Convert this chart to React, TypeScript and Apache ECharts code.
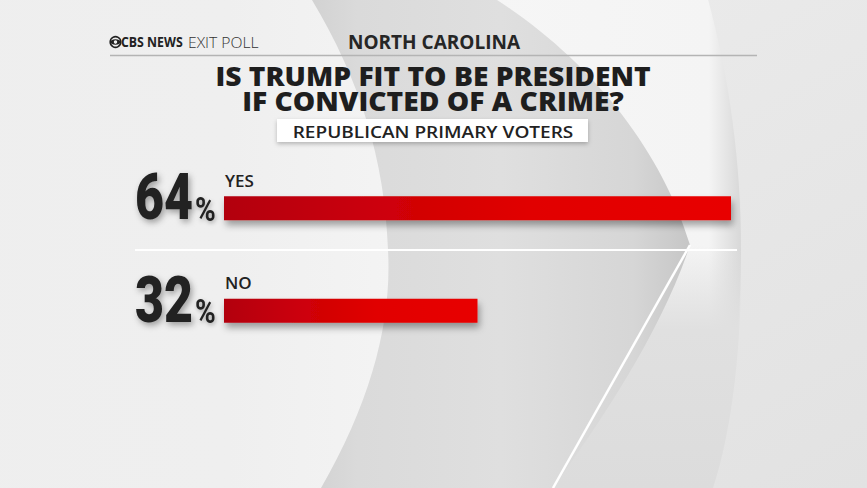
import React, { useEffect, useRef } from "react";
import * as echarts from "echarts";

const categories = ["YES", "NO"];
const values = [64, 32];
const headerLeftBold = "CBS NEWS";
const headerLeftLight = "EXIT POLL";
const stateName = "NORTH CAROLINA";
const titleLines = ["IS TRUMP FIT TO BE PRESIDENT", "IF CONVICTED OF A CRIME?"];
const subtitle = "REPUBLICAN PRIMARY VOTERS";

const W = 867;
const H = 488;

const CRESCENT_D =
  "M312,0 L497,0 C590,60 662,150 690,245 C662,330 602,420 553,488 L321,488 C372,400 392,320 388,250 C385,160 360,80 312,0 Z";
const LOWER_D = "M690,245 L553,488 L713,488 C735,420 742,330 741,250 Z";

let registered = false;
function registerShapes() {
  if (registered) return;
  echarts.graphic.registerShape("crescent", echarts.graphic.extendPath(CRESCENT_D, {}));
  echarts.graphic.registerShape("lowerPanel", echarts.graphic.extendPath(LOWER_D, {}));
  registered = true;
}

export default function App() {
  const ref = useRef<HTMLDivElement>(null);

  useEffect(() => {
    if (!ref.current) return;
    registerShapes();
    const chart = echarts.init(ref.current, null, { renderer: "svg" });
    const LG = echarts.graphic.LinearGradient;

    const background: any[] = [
      {
        type: "rect",
        id: "bg",
        z: -100,
        shape: { x: 0, y: 0, width: W, height: H },
        style: {
          fill: new LG(0, 0, 1, 1, [
            { offset: 0, color: "#efefef" },
            { offset: 1, color: "#e2e2e2" },
          ]),
        },
        silent: true,
      },
      {
        type: "ellipse",
        id: "band",
        z: -99,
        shape: { cx: 100, cy: 250, rx: 641, ry: 789 },
        style: {
          fill: new LG(0, 0, 1, 0, [
            { offset: 0, color: "#ededed" },
            { offset: 0.6, color: "#efefef" },
            { offset: 0.8, color: "#f6f6f6" },
            { offset: 0.975, color: "#f4f4f4" },
            { offset: 1, color: "#d8d8d8" },
          ]),
        },
        silent: true,
      },
      {
        type: "lowerPanel",
        id: "lower",
        z: -98,
        style: {
          fill: new LG(0, 0, 0, 1, [
            { offset: 0, color: "rgba(222,222,222,0)" },
            { offset: 0.35, color: "#e0e0e0" },
            { offset: 1, color: "#dcdcdc" },
          ]),
        },
        silent: true,
      },
      {
        type: "crescent",
        id: "crescent",
        z: -97,
        style: {
          fill: new LG(0, 0, 1, 0, [
            { offset: 0, color: "#d2d2d2" },
            { offset: 0.12, color: "#dadada" },
            { offset: 0.5, color: "#dfdfdf" },
            { offset: 0.85, color: "#d6d6d6" },
            { offset: 1, color: "#c6c6c6" },
          ]),
        },
        silent: true,
      },
      {
        type: "line",
        id: "crescentEdge",
        z: -96,
        shape: { x1: 690, y1: 245, x2: 553, y2: 488 },
        style: { stroke: "#ffffff", lineWidth: 2.5 },
        silent: true,
      },
    ];

    const statics: any[] = [
      {
        type: "circle",
        id: "eyeOuter",
        z: 10,
        shape: { cx: 115.5, cy: 42, r: 5.3 },
        style: { fill: "none", stroke: "#222", lineWidth: 1.6 },
      },
      {
        type: "ellipse",
        id: "eyeLid",
        z: 10,
        shape: { cx: 115.5, cy: 42, rx: 5, ry: 2.8 },
        style: { fill: "#222" },
      },
      {
        type: "circle",
        id: "eyePupil",
        z: 11,
        shape: { cx: 115.5, cy: 42, r: 1.7 },
        style: { fill: "#f2f2f2" },
      },
      {
        type: "text",
        id: "cbs",
        z: 10,
        x: 121,
        y: 42,
        scaleX: 0.88,
        style: {
          text: headerLeftBold,
          fill: "#222",
          fontSize: 14,
          fontWeight: 700,
          fontFamily: "Open Sans",
          align: "left",
          verticalAlign: "middle",
        },
      },
      {
        type: "text",
        id: "exitpoll",
        z: 10,
        x: 188,
        y: 42,
        scaleX: 1.12,
        style: {
          text: headerLeftLight,
          fill: "#333",
          fontSize: 14,
          fontWeight: 300,
          fontFamily: "Open Sans",
          align: "left",
          verticalAlign: "middle",
        },
      },
      {
        type: "text",
        id: "state",
        z: 10,
        x: 434,
        y: 42,
        style: {
          text: stateName,
          fill: "#262626",
          fontSize: 19,
          fontWeight: 700,
          fontFamily: "Open Sans",
          align: "center",
          verticalAlign: "middle",
        },
      },
      {
        type: "line",
        id: "headerLine",
        z: 10,
        shape: { x1: 110, y1: 55.5, x2: 757, y2: 55.5 },
        style: { stroke: "#b4b4b4", lineWidth: 1.5 },
      },
      {
        type: "text",
        id: "title",
        z: 10,
        x: 433,
        y: 88,
        scaleX: 1.045,
        style: {
          text: titleLines.join("\n"),
          fill: "#1e1e1e",
          fontSize: 27,
          lineHeight: 25,
          fontWeight: 800,
          fontFamily: "Open Sans",
          align: "center",
          verticalAlign: "middle",
        },
      },
      {
        type: "rect",
        id: "subBox",
        z: 9,
        shape: { x: 277, y: 119, width: 311, height: 23 },
        style: {
          fill: "#ffffff",
          shadowColor: "rgba(0,0,0,0.25)",
          shadowBlur: 4,
          shadowOffsetY: 2,
        },
      },
      {
        type: "text",
        id: "sub",
        z: 10,
        x: 433,
        y: 131,
        scaleX: 1.12,
        style: {
          text: subtitle,
          fill: "#222",
          fontSize: 17,
          fontWeight: 600,
          fontFamily: "Open Sans",
          align: "center",
          verticalAlign: "middle",
        },
      },
      {
        type: "line",
        id: "sep",
        z: 10,
        shape: { x1: 135, y1: 250, x2: 737, y2: 250 },
        style: { stroke: "#ffffff", lineWidth: 2 },
      },
    ];

    const option: any = {
      animation: false,
      graphic: { elements: [...background, ...statics] },
      grid: { left: 224, right: 136, top: 157, height: 205, containLabel: false },
      xAxis: { type: "value", min: 0, max: 64, show: false },
      yAxis: { type: "category", data: categories, inverse: true, show: false },
      series: [
        {
          type: "bar",
          data: values,
          barWidth: 24,
          z: 5,
          itemStyle: {
            color: new LG(0, 0, 1, 0, [
              { offset: 0, color: "#b2000f" },
              { offset: 0.3, color: "#cc0008" },
              { offset: 0.6, color: "#e10000" },
              { offset: 1, color: "#e80000" },
            ]),
            shadowColor: "rgba(0,0,0,0.35)",
            shadowBlur: 7,
            shadowOffsetY: 5,
            shadowOffsetX: 2,
          },
          label: {
            show: true,
            position: [1, -16],
            formatter: "{b}",
            color: "#222",
            fontSize: 17,
            fontWeight: 600,
            fontFamily: "Open Sans",
            align: "left",
            verticalAlign: "middle",
          },
        },
      ],
    };

    chart.setOption(option);

    const numberEls: any[] = [];
    categories.forEach((c, i) => {
      const p = chart.convertToPixel({ gridIndex: 0 }, [0, i]) as number[];
      const x = p[0];
      const y = p[1];
      numberEls.push({
        type: "text",
        id: "num" + i,
        z: 20,
        x: x - 31,
        y: y - 11.5,
        scaleX: 0.77,
        style: {
          text: String(values[i]),
          fill: "#222",
          fontSize: 65,
          fontWeight: 900,
          fontFamily: "Roboto",
          align: "right",
          verticalAlign: "middle",
          textShadowColor: "rgba(0,0,0,0.35)",
          textShadowBlur: 6,
          textShadowOffsetX: 2,
          textShadowOffsetY: 3,
        },
      });
      numberEls.push({
        type: "text",
        id: "pct" + i,
        z: 20,
        x: x - 29,
        y: y + 1,
        scaleX: 0.85,
        style: {
          text: "%",
          fill: "#222",
          fontSize: 33,
          fontWeight: 700,
          fontFamily: "Roboto",
          align: "left",
          verticalAlign: "middle",
          textShadowColor: "rgba(0,0,0,0.3)",
          textShadowBlur: 4,
          textShadowOffsetX: 1,
          textShadowOffsetY: 2,
        },
      });
    });

    chart.setOption({ graphic: { elements: [...background, ...statics, ...numberEls] } });

    return () => chart.dispose();
  }, []);

  return <div ref={ref} style={{ width: W, height: H, position: "absolute", left: 0, top: 0 }} />;
}
